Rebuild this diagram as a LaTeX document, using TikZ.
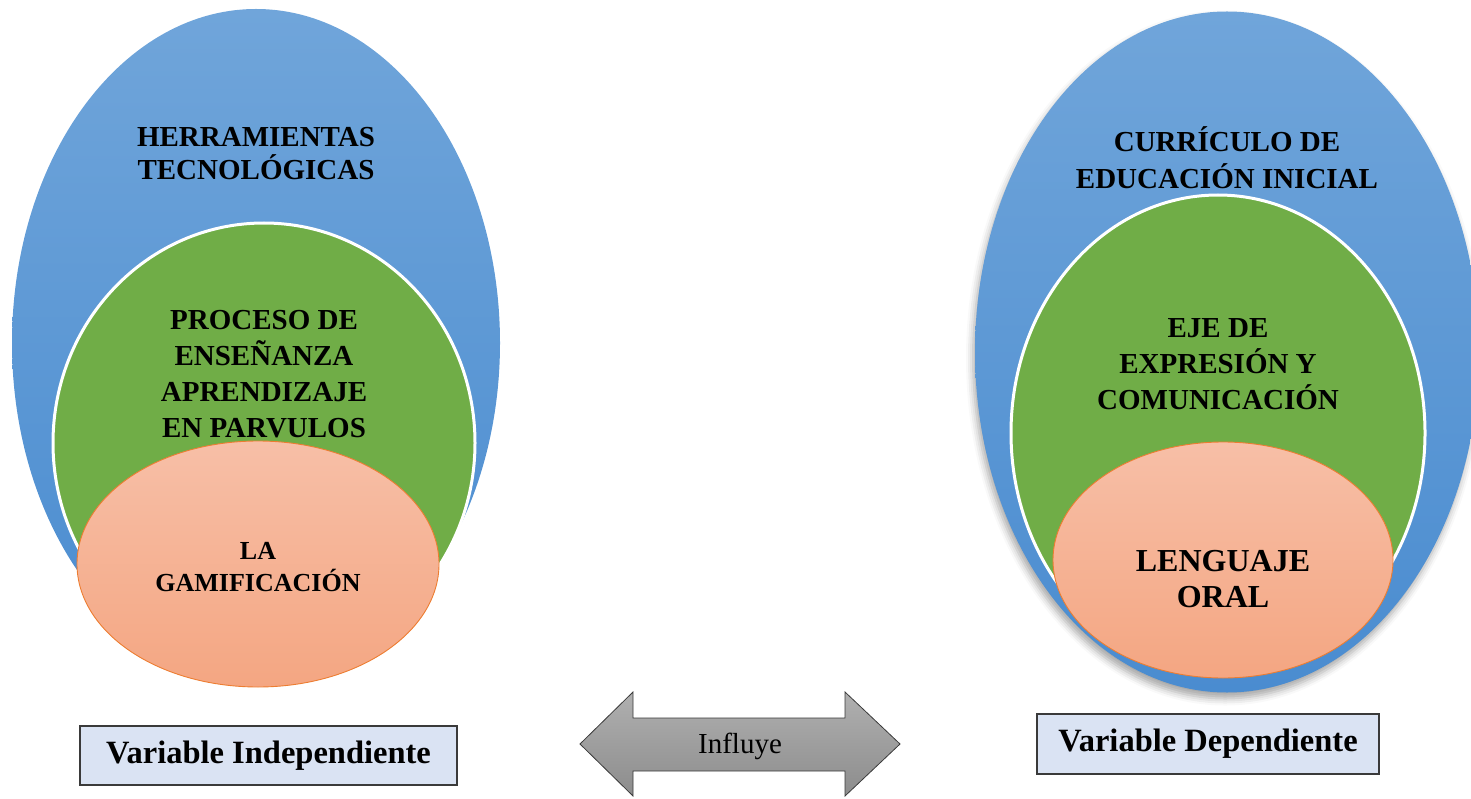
\documentclass[tikz,border=0pt]{standalone}
\usepackage{fontspec}
\setmainfont{Liberation Serif}
\usetikzlibrary{shapes.geometric,shadows.blur}
\definecolor{bluetop}{HTML}{70A5DA}
\definecolor{bluebot}{HTML}{4A8CD0}
\definecolor{leafgreen}{HTML}{70AD47}
\definecolor{peachtop}{HTML}{F7BFA7}
\definecolor{peachbot}{HTML}{F4A682}
\definecolor{peachline}{HTML}{ED7D31}
\definecolor{labelfill}{HTML}{DAE3F3}
\definecolor{labelline}{HTML}{3A3A3A}
\tikzset{
  outer/.style={ellipse, inner sep=0pt, top color=bluetop, bottom color=bluebot, draw=none},
  middle/.style={ellipse, inner sep=0pt, fill=leafgreen, draw=white, line width=3pt},
  inner/.style={ellipse, inner sep=0pt, top color=peachtop, bottom color=peachbot, draw=peachline, line width=0.9pt},
  caption/.style={align=center, font=\bfseries\fontsize{29}{36}\selectfont},
  varbox/.style={draw=labelline, line width=1.3pt, fill=labelfill, inner sep=0pt,
    font=\bfseries\fontsize{32.5}{36}\selectfont},
  twoway/.style={draw=labelline, line width=0.8pt, top color=gray!62, bottom color=gray!110!black}
}
\begin{document}
\begin{tikzpicture}[x=1pt,y=-1pt]
\useasboundingbox (0,0) rectangle (1471,799);

% left group: independent variable
\node[outer, minimum width=488pt, minimum height=668pt] (blueL) at (256,343) {};
\node[middle, minimum width=422pt, minimum height=440pt] (greenL) at (264,443) {};
\node[inner, minimum width=362pt, minimum height=246pt] (peachL) at (258,564) {};
\node[caption, font=\bfseries\fontsize{29}{33}\selectfont] (tL1) at (256,154) {HERRAMIENTAS\\TECNOLÓGICAS};
\node[caption] (tL2) at (264,374) {PROCESO DE\\ENSEÑANZA\\APRENDIZAJE\\EN PARVULOS};
\node[caption, font=\bfseries\fontsize{26}{32}\selectfont] (tL3) at (258,567) {LA\\GAMIFICACIÓN};

% right group: dependent variable
\node[outer, minimum width=504pt, minimum height=681pt,
  blur shadow={shadow xshift=-2pt, shadow yshift=-6pt, shadow blur radius=7pt, shadow opacity=35}] (blueR) at (1227,352) {};
\node[middle, minimum width=414pt, minimum height=476pt] (greenR) at (1218,433) {};
\node[inner, minimum width=340pt, minimum height=236pt] (peachR) at (1223,560) {};
\node[caption, font=\bfseries\fontsize{29}{37}\selectfont] (tR1) at (1227,158) {CURRÍCULO DE\\EDUCACIÓN INICIAL};
\node[caption] (tR2) at (1218,364) {EJE DE\\EXPRESIÓN Y\\COMUNICACIÓN};
\node[caption, font=\bfseries\fontsize{32}{36}\selectfont] (tR3) at (1223,579) {LENGUAJE\\ORAL};

% variable labels
\node[varbox, minimum width=377pt, minimum height=59pt] (varL) at (268.5,755.5) {Variable Independiente};
\node[varbox, minimum width=342pt, minimum height=60pt] (varR) at (1208,744) {Variable Dependiente};

% two-headed arrow between the groups
\coordinate (tipL) at (580,744);
\coordinate (tipR) at (900,744);
\path[twoway] (tipL) -- (633,692) -- (633,718) -- (845,718) -- (845,692) -- (tipR)
  -- (845,796) -- (845,771) -- (633,771) -- (633,796) -- cycle;
\node[font=\fontsize{29}{32}\selectfont] (infl) at (740,746) {Influye};
\end{tikzpicture}
\end{document}
